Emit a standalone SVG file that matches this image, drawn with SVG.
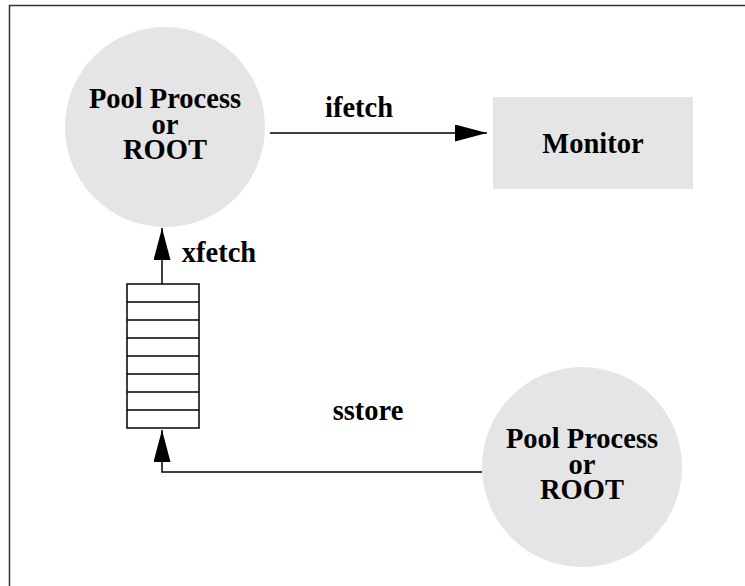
<svg xmlns="http://www.w3.org/2000/svg" width="745" height="586" viewBox="0 0 745 586">
  <style>
    .lbl { font-family: "Liberation Serif", "Times New Roman", serif; font-weight: bold; font-size: 28.5px; fill: #000; text-anchor: middle; }
    .node { fill: #e5e5e5; stroke: none; }
    .wire { fill: none; stroke: #000; stroke-width: 1.5; }
    .cell { fill: #fff; stroke: #000; stroke-width: 1.5; }
  </style>
  <defs>
    <marker id="head" viewBox="0 0 32 17" refX="32" refY="8.5" markerWidth="32" markerHeight="17" markerUnits="userSpaceOnUse" orient="auto">
      <path d="M0,0 L32,8.5 L0,17 Z" fill="#000"/>
    </marker>
  </defs>
  <rect width="745" height="586" fill="#fff"/>
  <!-- frame: left and top rules -->
  <path d="M9.5,586 L9.5,5.5 L745,5.5" fill="none" stroke="#333" stroke-width="1.5"/>

  <g id="pool-top">
    <circle class="node" cx="165" cy="127" r="100"/>
    <text class="lbl" x="165" y="108">Pool Process</text>
    <text class="lbl" x="165" y="133.5">or</text>
    <text class="lbl" x="165" y="159">ROOT</text>
  </g>

  <g id="monitor">
    <rect class="node" x="493" y="97" width="200" height="92"/>
    <text class="lbl" x="593" y="153">Monitor</text>
  </g>

  <g id="queue">
    <rect class="cell" x="127" y="284" width="72" height="144"/>
    <path class="wire" d="M127,302 H199 M127,320 H199 M127,338 H199 M127,356 H199 M127,374 H199 M127,392 H199 M127,410 H199"/>
  </g>

  <g id="pool-bottom">
    <circle class="node" cx="582" cy="467" r="100"/>
    <text class="lbl" x="582" y="448">Pool Process</text>
    <text class="lbl" x="582" y="473.5">or</text>
    <text class="lbl" x="582" y="499">ROOT</text>
  </g>

  <g id="connectors">
    <path class="wire" d="M270,133 H487" marker-end="url(#head)"/>
    <text class="lbl" x="359" y="117">ifetch</text>
    <path class="wire" d="M162,284 V228" marker-end="url(#head)"/>
    <text class="lbl" x="219" y="262">xfetch</text>
    <path class="wire" d="M482,472 H162 V430" marker-end="url(#head)"/>
    <text class="lbl" x="368" y="420">sstore</text>
  </g>
</svg>
